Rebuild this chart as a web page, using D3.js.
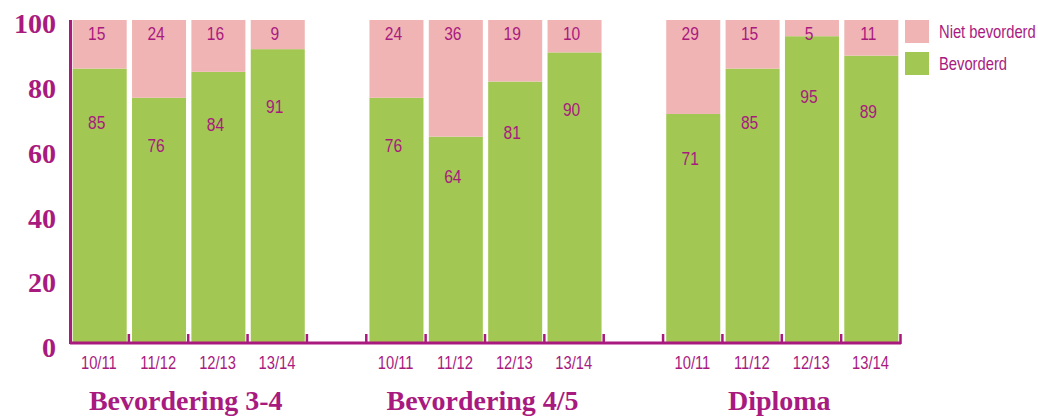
<!DOCTYPE html>
<html>
<head>
<meta charset="utf-8">
<script src="https://cdn.jsdelivr.net/npm/d3@7"></script>
<style>
	body { margin: 0; background: #fff; }
	.lbl { font-family: "Liberation Sans", Arial, sans-serif; fill: #a91a7f; }
	.ser { font-family: "Liberation Serif", serif; font-weight: bold; fill: #a91a7f; }
</style>
</head>
<body>
<div id="chart"></div>
<script>
// data
var groups = ["Bevordering 3-4", "Bevordering 4/5", "Diploma"];
var years = ["10/11", "11/12", "12/13", "13/14"];
var bevorderd = [
	[85, 76, 84, 91],
	[76, 64, 81, 90],
	[71, 85, 95, 89]
];
var nietBevorderd = [
	[15, 24, 16, 9],
	[24, 36, 19, 10],
	[29, 15, 5, 11]
];
var yTicks = [0, 20, 40, 60, 80, 100];
var legendLabels = ["Niet bevorderd", "Bevorderd"];

var magenta = "#a91a7f", pink = "#f0b4b4", green = "#a2c752";
var narrow = " scale(0.82,1)";

var width = 1038, height = 417;
var margin = {top: 20, right: 137, bottom: 73, left: 70},
	Chartwidth = width - margin.left - margin.right,
	Chartheight = height - margin.top - margin.bottom;

var svg = d3.select("#chart").append("svg")
	.attr("width", width)
	.attr("height", height);

// slots: 4 bars per group, one empty slot between groups
var slots = [], bars = [];
groups.forEach(function(g, gi) {
	years.forEach(function(yr, yi) {
		var key = gi + "|" + yr;
		slots.push(key);
		bars.push({key: key, group: gi, year: yr, bev: bevorderd[gi][yi], niet: nietBevorderd[gi][yi]});
	});
	if (gi < groups.length - 1) slots.push("gap" + gi);
});

var pIn = 0.09;
var x = d3.scaleBand().domain(slots).range([0, Chartwidth]).paddingInner(pIn).paddingOuter(pIn / 2);
var y = d3.scaleLinear().domain([0, 100]).range([Chartheight, 0]);

var g = svg.append("g")
	.attr("transform", "translate(" + margin.left + "," + margin.top + ")");

// bars
g.selectAll(".bar.bev")
	.data(bars)
  .enter().append("rect")
	.attr("class", "bar bev")
	.attr("x", function(d) { return x(d.key); })
	.attr("width", x.bandwidth())
	.attr("y", function(d) { return y(d.bev); })
	.attr("height", function(d) { return y(0) - y(d.bev); })
	.attr("fill", green);

g.selectAll(".bar.niet")
	.data(bars)
  .enter().append("rect")
	.attr("class", "bar niet")
	.attr("x", function(d) { return x(d.key); })
	.attr("width", x.bandwidth())
	.attr("y", function(d) { return y(d.bev + d.niet); })
	.attr("height", function(d) { return y(d.bev) - y(d.bev + d.niet); })
	.attr("fill", pink);

// value labels
function cx(d) { return x(d.key) + x.bandwidth() / 2 - 3; }

g.selectAll(".vl-niet")
	.data(bars)
  .enter().append("text")
	.attr("class", "lbl vl-niet")
	.attr("transform", function(d) { return "translate(" + cx(d) + "," + (y(d.bev + d.niet) + 13) + ")" + narrow; })
	.attr("dy", "0.36em")
	.attr("text-anchor", "middle")
	.style("font-size", "19px")
	.text(function(d) { return d.niet; });

g.selectAll(".vl-bev")
	.data(bars)
  .enter().append("text")
	.attr("class", "lbl vl-bev")
	.attr("transform", function(d) { return "translate(" + cx(d) + "," + (y(d.bev * 0.8) - 2) + ")" + narrow; })
	.attr("dy", "0.36em")
	.attr("text-anchor", "middle")
	.style("font-size", "19px")
	.text(function(d) { return d.bev; });

// x axis
var xAxis = g.append("g")
	.attr("class", "x axis")
	.attr("transform", "translate(0," + Chartheight + ")")
	.call(d3.axisBottom(x).tickValues(bars.map(function(d) { return d.key; }))
		.tickFormat(function(k) { return k.split("|")[1]; }).tickSize(0).tickPadding(12));
xAxis.select(".domain").remove();
xAxis.selectAll(".tick text")
	.attr("class", "lbl")
	.attr("x", -1)
	.attr("transform", narrow)
	.style("font-size", "18px");

g.append("line")
	.attr("x1", 0).attr("x2", Chartwidth)
	.attr("y1", y(0) - 1).attr("y2", y(0) - 1)
	.attr("stroke", magenta).attr("stroke-width", 3);

var bounds = d3.range(1, slots.length + 1).map(function(i) { return i * x.step(); });
g.selectAll(".xtick")
	.data(bounds)
  .enter().append("line")
	.attr("class", "xtick")
	.attr("x1", function(d) { return d - 0.5; }).attr("x2", function(d) { return d - 0.5; })
	.attr("y1", y(0)).attr("y2", y(0) - 10)
	.attr("stroke", magenta).attr("stroke-width", 2.5);

// y axis
var yAxis = g.append("g")
	.attr("class", "y axis")
	.call(d3.axisLeft(y).tickValues(yTicks).tickSize(0).tickPadding(14));
yAxis.select(".domain").remove();
yAxis.selectAll(".tick text")
	.attr("class", "ser")
	.attr("dy", "0.45em")
	.style("font-size", "28px");

g.append("line")
	.attr("x1", 0.5).attr("x2", 0.5)
	.attr("y1", y(100)).attr("y2", y(0))
	.attr("stroke", magenta).attr("stroke-width", 3);

// group labels
g.selectAll(".grp")
	.data(groups)
  .enter().append("text")
	.attr("class", "ser grp")
	.attr("x", function(d, i) {
		var first = x(i + "|" + years[0]), last = x(i + "|" + years[years.length - 1]) + x.bandwidth();
		return (first + last) / 2 - 3;
	})
	.attr("y", Chartheight + 66)
	.attr("text-anchor", "middle")
	.style("font-size", "28px")
	.text(function(d) { return d; });

// legend
var legend = svg.append("g")
	.attr("transform", "translate(" + (margin.left + Chartwidth + 4) + "," + margin.top + ")");
var lg = legend.selectAll(".leg")
	.data(legendLabels)
  .enter().append("g")
	.attr("class", "leg")
	.attr("transform", function(d, i) { return "translate(0," + (i * 32) + ")"; });
lg.append("rect")
	.attr("width", 24).attr("height", 23)
	.attr("fill", function(d, i) { return i === 0 ? pink : green; });
lg.append("text")
	.attr("class", "lbl")
	.attr("transform", "translate(34,12)" + narrow)
	.attr("dy", "0.36em")
	.style("font-size", "18px")
	.text(function(d) { return d; });
</script>
</body>
</html>
